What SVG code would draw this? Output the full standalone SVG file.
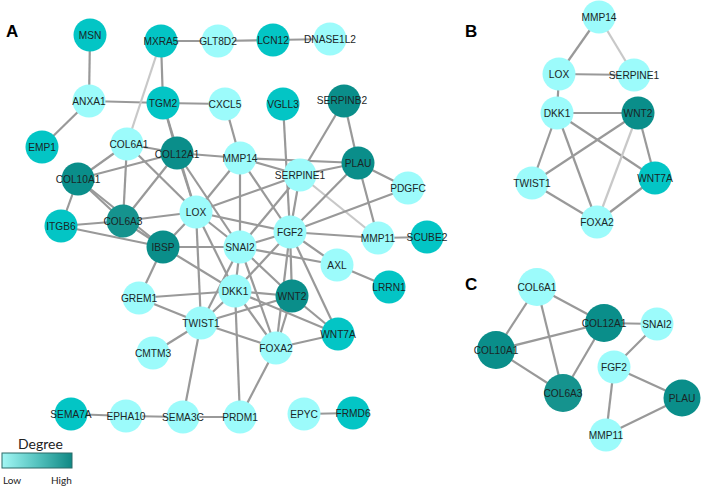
<svg xmlns="http://www.w3.org/2000/svg" width="704" height="487" viewBox="0 0 704 487">
<defs>
<linearGradient id="deg" x1="0" y1="0" x2="1" y2="0">
<stop offset="0" stop-color="#a3f7f5"/>
<stop offset="0.5" stop-color="#55c3bf"/>
<stop offset="1" stop-color="#0f8884"/>
</linearGradient>
</defs>
<style>
.e line{stroke:#999;stroke-width:2.2;}
.e line.lt{stroke:#c8c8c8;}
circle{stroke:none;}
.lo{fill:#9cfbfb;}
.md{fill:#03c5c5;}
.dk{fill:#0a8e8a;}
.dk2{fill:#15938e;}
text.n{font-family:"Liberation Sans",Arial,sans-serif;font-size:10.2px;fill:#1a2626;text-anchor:middle;dominant-baseline:central;}
text.p{font-family:"Liberation Sans",Arial,sans-serif;font-size:17px;font-weight:bold;fill:#000;}
text.l{font-family:Lato,"Liberation Sans",sans-serif;fill:#222;}
</style>
<rect width="704" height="487" fill="#fff"/>
<text class="p" x="6" y="37">A</text>
<text class="p" x="465" y="37">B</text>
<text class="p" x="465" y="290">C</text>
<g id="connectors" class="e">
<line x1="90" y1="35" x2="89" y2="101"/>
<line x1="89" y1="101" x2="163" y2="103"/>
<line x1="89" y1="101" x2="42" y2="147"/>
<line x1="161" y1="41" x2="218" y2="41"/>
<line x1="218" y1="41" x2="273" y2="40"/>
<line x1="273" y1="40" x2="330" y2="39"/>
<line x1="161" y1="41" x2="163" y2="103"/>
<line class="lt" x1="161" y1="41" x2="127" y2="144"/>
<line x1="163" y1="103" x2="225" y2="104"/>
<line x1="163" y1="103" x2="177" y2="153"/>
<line x1="163" y1="103" x2="196" y2="212"/>
<line x1="225" y1="104" x2="240" y2="158"/>
<line x1="283" y1="104" x2="290" y2="232"/>
<line x1="344" y1="101" x2="358" y2="163"/>
<line x1="344" y1="101" x2="300" y2="175"/>
<line x1="240" y1="158" x2="300" y2="175"/>
<line x1="240" y1="158" x2="358" y2="163"/>
<line x1="300" y1="175" x2="358" y2="163"/>
<line x1="177" y1="153" x2="240" y2="158"/>
<line x1="127" y1="144" x2="177" y2="153"/>
<line x1="127" y1="144" x2="78" y2="179"/>
<line x1="127" y1="144" x2="123" y2="221"/>
<line x1="127" y1="144" x2="196" y2="212"/>
<line x1="78" y1="179" x2="177" y2="153"/>
<line x1="78" y1="179" x2="123" y2="221"/>
<line x1="78" y1="179" x2="163" y2="247"/>
<line x1="61" y1="226" x2="78" y2="179"/>
<line x1="61" y1="226" x2="123" y2="221"/>
<line x1="61" y1="226" x2="163" y2="247"/>
<line x1="123" y1="221" x2="196" y2="212"/>
<line x1="123" y1="221" x2="163" y2="247"/>
<line x1="177" y1="153" x2="123" y2="221"/>
<line x1="177" y1="153" x2="196" y2="212"/>
<line x1="177" y1="153" x2="240" y2="247"/>
<line x1="196" y1="212" x2="163" y2="247"/>
<line x1="196" y1="212" x2="240" y2="158"/>
<line x1="196" y1="212" x2="300" y2="175"/>
<line x1="196" y1="212" x2="240" y2="247"/>
<line x1="196" y1="212" x2="290" y2="232"/>
<line x1="196" y1="212" x2="201" y2="323"/>
<line x1="196" y1="212" x2="235" y2="291"/>
<line x1="163" y1="247" x2="240" y2="247"/>
<line x1="163" y1="247" x2="235" y2="291"/>
<line x1="163" y1="247" x2="139" y2="298"/>
<line x1="139" y1="298" x2="235" y2="291"/>
<line x1="139" y1="298" x2="201" y2="323"/>
<line x1="240" y1="158" x2="240" y2="247"/>
<line x1="240" y1="158" x2="290" y2="232"/>
<line x1="300" y1="175" x2="290" y2="232"/>
<line class="lt" x1="300" y1="175" x2="378" y2="238"/>
<line x1="240" y1="247" x2="300" y2="175"/>
<line x1="358" y1="163" x2="290" y2="232"/>
<line x1="358" y1="163" x2="378" y2="238"/>
<line x1="358" y1="163" x2="408" y2="188"/>
<line x1="408" y1="188" x2="290" y2="232"/>
<line x1="290" y1="232" x2="378" y2="238"/>
<line x1="378" y1="238" x2="427" y2="237"/>
<line x1="290" y1="232" x2="337" y2="265"/>
<line x1="337" y1="265" x2="389" y2="287"/>
<line x1="240" y1="247" x2="337" y2="265"/>
<line x1="240" y1="247" x2="290" y2="232"/>
<line x1="240" y1="247" x2="235" y2="291"/>
<line x1="240" y1="247" x2="292" y2="296"/>
<line x1="240" y1="247" x2="201" y2="323"/>
<line x1="240" y1="247" x2="276" y2="348"/>
<line x1="290" y1="232" x2="235" y2="291"/>
<line x1="290" y1="232" x2="292" y2="296"/>
<line x1="290" y1="232" x2="276" y2="348"/>
<line x1="290" y1="232" x2="338" y2="334"/>
<line x1="235" y1="291" x2="292" y2="296"/>
<line x1="235" y1="291" x2="201" y2="323"/>
<line x1="235" y1="291" x2="276" y2="348"/>
<line x1="235" y1="291" x2="338" y2="334"/>
<line x1="235" y1="291" x2="240" y2="417"/>
<line x1="292" y1="296" x2="338" y2="334"/>
<line x1="292" y1="296" x2="276" y2="348"/>
<line x1="292" y1="296" x2="201" y2="323"/>
<line x1="201" y1="323" x2="276" y2="348"/>
<line x1="201" y1="323" x2="153" y2="353"/>
<line x1="201" y1="323" x2="183" y2="417"/>
<line x1="276" y1="348" x2="338" y2="334"/>
<line x1="276" y1="348" x2="240" y2="417"/>
<line x1="71" y1="414" x2="126" y2="416"/>
<line x1="126" y1="416" x2="183" y2="417"/>
<line x1="183" y1="417" x2="240" y2="417"/>
<line x1="304" y1="414" x2="353" y2="413"/>
<!-- B -->
<line x1="599" y1="17" x2="559" y2="74"/>
<line class="lt" x1="599" y1="17" x2="634" y2="75"/>
<line x1="559" y1="74" x2="634" y2="75"/>
<line x1="559" y1="74" x2="557" y2="113"/>
<line x1="557" y1="113" x2="638" y2="113"/>
<line x1="557" y1="113" x2="532" y2="183"/>
<line x1="557" y1="113" x2="597" y2="222"/>
<line x1="557" y1="113" x2="655" y2="178"/>
<line x1="638" y1="113" x2="532" y2="183"/>
<line class="lt" x1="638" y1="113" x2="597" y2="222"/>
<line x1="638" y1="113" x2="655" y2="178"/>
<line x1="532" y1="183" x2="597" y2="222"/>
<line x1="597" y1="222" x2="655" y2="178"/>
<!-- C -->
<line x1="537" y1="287" x2="604" y2="323"/>
<line x1="537" y1="287" x2="496" y2="350"/>
<line x1="537" y1="287" x2="563" y2="393"/>
<line x1="496" y1="350" x2="604" y2="323"/>
<line x1="496" y1="350" x2="563" y2="393"/>
<line x1="604" y1="323" x2="563" y2="393"/>
<line x1="604" y1="323" x2="657" y2="324"/>
<line x1="657" y1="324" x2="614" y2="367"/>
<line x1="614" y1="367" x2="682" y2="398"/>
<line x1="614" y1="367" x2="606" y2="435"/>
<line x1="682" y1="398" x2="606" y2="435"/>
</g>
<g id="A-MSN"><circle class="md" cx="90" cy="35" r="16.5"/><text class="n" x="90" y="35">MSN</text></g>
<g id="A-MXRA5"><circle class="md" cx="161" cy="41" r="16.5"/><text class="n" x="161" y="41">MXRA5</text></g>
<g id="A-GLT8D2"><circle class="lo" cx="218" cy="41" r="16.5"/><text class="n" x="218" y="41">GLT8D2</text></g>
<g id="A-LCN12"><circle class="md" cx="273" cy="40" r="16.5"/><text class="n" x="273" y="40">LCN12</text></g>
<g id="A-DNASE1L2"><circle class="lo" cx="330" cy="39" r="16.5"/><text class="n" x="330" y="39">DNASE1L2</text></g>
<g id="A-ANXA1"><circle class="lo" cx="89" cy="101" r="16.5"/><text class="n" x="89" y="101">ANXA1</text></g>
<g id="A-TGM2"><circle class="md" cx="163" cy="103" r="16.5"/><text class="n" x="163" y="103">TGM2</text></g>
<g id="A-CXCL5"><circle class="lo" cx="225" cy="104" r="16.5"/><text class="n" x="225" y="104">CXCL5</text></g>
<g id="A-VGLL3"><circle class="md" cx="283" cy="104" r="16.5"/><text class="n" x="283" y="104">VGLL3</text></g>
<g id="A-SERPINB2"><circle class="dk" cx="344" cy="101" r="16.5"/><text class="n" x="342" y="100">SERPINB2</text></g>
<g id="A-EMP1"><circle class="md" cx="42" cy="147" r="16.5"/><text class="n" x="42" y="147">EMP1</text></g>
<g id="A-COL6A1"><circle class="lo" cx="127" cy="144" r="16.5"/><text class="n" x="129" y="144">COL6A1</text></g>
<g id="A-COL12A1"><circle class="dk" cx="177" cy="153" r="16.5"/><text class="n" x="177" y="154">COL12A1</text></g>
<g id="A-MMP14"><circle class="lo" cx="240" cy="158" r="16.5"/><text class="n" x="240" y="158">MMP14</text></g>
<g id="A-SERPINE1"><circle class="lo" cx="300" cy="175" r="16.5"/><text class="n" x="300" y="175">SERPINE1</text></g>
<g id="A-PLAU"><circle class="dk" cx="358" cy="163" r="16.5"/><text class="n" x="358" y="163">PLAU</text></g>
<g id="A-PDGFC"><circle class="lo" cx="408" cy="188" r="16.5"/><text class="n" x="408" y="188">PDGFC</text></g>
<g id="A-COL10A1"><circle class="dk" cx="78" cy="179" r="16.5"/><text class="n" x="78" y="179">COL10A1</text></g>
<g id="A-ITGB6"><circle class="md" cx="61" cy="226" r="16.5"/><text class="n" x="61" y="226">ITGB6</text></g>
<g id="A-COL6A3"><circle class="dk2" cx="123" cy="221" r="16.5"/><text class="n" x="123" y="221">COL6A3</text></g>
<g id="A-LOX"><circle class="lo" cx="196" cy="212" r="16.5"/><text class="n" x="196" y="212">LOX</text></g>
<g id="A-FGF2"><circle class="lo" cx="290" cy="232" r="16.5"/><text class="n" x="290" y="232">FGF2</text></g>
<g id="A-MMP11"><circle class="lo" cx="378" cy="238" r="16.5"/><text class="n" x="378" y="238">MMP11</text></g>
<g id="A-SCUBE2"><circle class="md" cx="427" cy="237" r="16.5"/><text class="n" x="427" y="237">SCUBE2</text></g>
<g id="A-IBSP"><circle class="dk" cx="163" cy="247" r="16.5"/><text class="n" x="163" y="247">IBSP</text></g>
<g id="A-SNAI2"><circle class="lo" cx="240" cy="247" r="16.5"/><text class="n" x="240" y="247">SNAI2</text></g>
<g id="A-AXL"><circle class="lo" cx="337" cy="265" r="16.5"/><text class="n" x="337" y="265">AXL</text></g>
<g id="A-LRRN1"><circle class="md" cx="389" cy="287" r="16.5"/><text class="n" x="389" y="287">LRRN1</text></g>
<g id="A-GREM1"><circle class="lo" cx="139" cy="298" r="16.5"/><text class="n" x="139" y="298">GREM1</text></g>
<g id="A-DKK1"><circle class="lo" cx="235" cy="291" r="16.5"/><text class="n" x="235" y="291">DKK1</text></g>
<g id="A-WNT2"><circle class="dk" cx="292" cy="296" r="16.5"/><text class="n" x="292" y="296">WNT2</text></g>
<g id="A-TWIST1"><circle class="lo" cx="201" cy="323" r="16.5"/><text class="n" x="201" y="323">TWIST1</text></g>
<g id="A-WNT7A"><circle class="md" cx="338" cy="334" r="16.5"/><text class="n" x="338" y="334">WNT7A</text></g>
<g id="A-CMTM3"><circle class="lo" cx="153" cy="353" r="16.5"/><text class="n" x="153" y="353">CMTM3</text></g>
<g id="A-FOXA2"><circle class="lo" cx="276" cy="348" r="16.5"/><text class="n" x="276" y="348">FOXA2</text></g>
<g id="A-SEMA7A"><circle class="md" cx="71" cy="414" r="16.5"/><text class="n" x="71" y="414">SEMA7A</text></g>
<g id="A-EPHA10"><circle class="lo" cx="126" cy="416" r="16.5"/><text class="n" x="126" y="416">EPHA10</text></g>
<g id="A-SEMA3C"><circle class="lo" cx="183" cy="417" r="16.5"/><text class="n" x="183" y="417">SEMA3C</text></g>
<g id="A-PRDM1"><circle class="lo" cx="240" cy="417" r="16.5"/><text class="n" x="240" y="417">PRDM1</text></g>
<g id="A-EPYC"><circle class="lo" cx="304" cy="414" r="16.5"/><text class="n" x="304" y="414">EPYC</text></g>
<g id="A-FRMD6"><circle class="md" cx="353" cy="413" r="16.5"/><text class="n" x="353" y="413">FRMD6</text></g>
<g id="B-MMP14"><circle class="lo" cx="599" cy="17" r="16.5"/><text class="n" x="599" y="17">MMP14</text></g>
<g id="B-LOX"><circle class="lo" cx="559" cy="74" r="16.5"/><text class="n" x="559" y="74">LOX</text></g>
<g id="B-SERPINE1"><circle class="lo" cx="634" cy="75" r="16.5"/><text class="n" x="634" y="75">SERPINE1</text></g>
<g id="B-DKK1"><circle class="lo" cx="557" cy="113" r="16.5"/><text class="n" x="557" y="113">DKK1</text></g>
<g id="B-WNT2"><circle class="dk" cx="638" cy="113" r="16.5"/><text class="n" x="638" y="113">WNT2</text></g>
<g id="B-TWIST1"><circle class="lo" cx="532" cy="183" r="16.5"/><text class="n" x="532" y="183">TWIST1</text></g>
<g id="B-WNT7A"><circle class="md" cx="655" cy="178" r="16.5"/><text class="n" x="655" y="178">WNT7A</text></g>
<g id="B-FOXA2"><circle class="lo" cx="597" cy="222" r="16.5"/><text class="n" x="597" y="222">FOXA2</text></g>
<g id="C-COL6A1"><circle class="lo" cx="537" cy="287" r="19"/><text class="n" x="537" y="287">COL6A1</text></g>
<g id="C-COL12A1"><circle class="dk" cx="604" cy="323" r="19"/><text class="n" x="604" y="323">COL12A1</text></g>
<g id="C-SNAI2"><circle class="lo" cx="657" cy="324" r="16.5"/><text class="n" x="657" y="324">SNAI2</text></g>
<g id="C-COL10A1"><circle class="dk" cx="496" cy="350" r="19"/><text class="n" x="496" y="350">COL10A1</text></g>
<g id="C-FGF2"><circle class="lo" cx="614" cy="367" r="16.5"/><text class="n" x="614" y="367">FGF2</text></g>
<g id="C-COL6A3"><circle class="dk2" cx="563" cy="393" r="19"/><text class="n" x="563" y="393">COL6A3</text></g>
<g id="C-PLAU"><circle class="dk" cx="682" cy="398" r="18.5"/><text class="n" x="682" y="398">PLAU</text></g>
<g id="C-MMP11"><circle class="lo" cx="606" cy="435" r="16.5"/><text class="n" x="606" y="435">MMP11</text></g>
<g id="legend">
<text class="l" x="18" y="449" font-size="14">Degree</text>
<rect x="2" y="453" width="70" height="15" fill="url(#deg)" stroke="#2d6b69" stroke-width="1"/>
<text class="l" x="3" y="484" font-size="10">Low</text>
<text class="l" x="51" y="484" font-size="10">High</text>
</g>
</svg>
